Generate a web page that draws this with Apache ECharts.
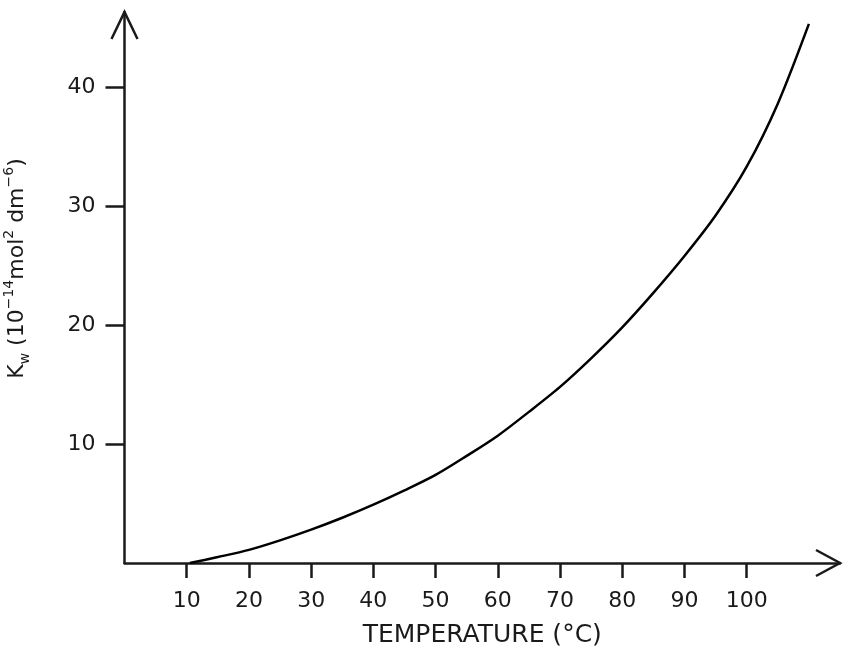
<!DOCTYPE html>
<html>
<head>
<meta charset="utf-8">
<script src="https://cdn.jsdelivr.net/npm/echarts@6/dist/echarts.min.js"></script>
<style>
  html, body { margin: 0; padding: 0; background: #fff; }
  #kwChart { width: 843px; height: 649px; }
</style>
</head>
<body>
<div id="kwChart"></div>
<script>
// Kw vs temperature
const temps = [10.5, 15, 20, 25, 30, 35, 40, 45, 50, 55, 60, 65, 70, 75, 80, 85, 90, 95, 100, 105, 110];
const kwValues = [0, 0.5, 1.1, 1.9, 2.8, 3.8, 4.9, 6.1, 7.4, 9.0, 10.7, 12.7, 14.8, 17.2, 19.8, 22.7, 25.8, 29.2, 33.3, 38.6, 45.3];
const xTicks = [10, 20, 30, 40, 50, 60, 70, 80, 90, 100];
const yTicks = [10, 20, 30, 40];

const font = 'DejaVu Sans';
const ink = '#1a1a1a';

const myChart = echarts.init(document.getElementById('kwChart'));

const option = {
  animation: false,
  backgroundColor: '#fff',
  grid: { left: 124.5, right: 3, top: 12, bottom: 86, outerBoundsMode: 'none' },
  xAxis: {
    type: 'value',
    min: 0,
    max: 115,
    name: 'TEMPERATURE (°C)',
    nameLocation: 'middle',
    nameGap: 60,
    nameTextStyle: { fontFamily: font, fontSize: 25, color: ink },
    axisLine: { show: true, lineStyle: { color: ink, width: 2.5 } },
    axisTick: { show: true, length: 15, customValues: xTicks, lineStyle: { color: ink, width: 2.5 } },
    axisLabel: { customValues: xTicks, margin: 27, fontFamily: font, fontSize: 22, color: ink },
    splitLine: { show: false }
  },
  yAxis: {
    type: 'value',
    min: 0,
    max: 46.3,
    name: '{m|K}{sub|w}{m| (10}{sup|−14}{m|mol}{sup|2}{m| dm}{sup|−6}{m|)}',
    nameLocation: 'middle',
    nameGap: 92,
    nameTextStyle: {
      padding: [0, 0, 0, 38],
      rich: {
        m: { fontFamily: font, fontSize: 22, color: ink, verticalAlign: 'middle', lineHeight: 30 },
        sup: { fontFamily: font, fontSize: 14, color: ink, verticalAlign: 'top', lineHeight: 30 },
        sub: { fontFamily: font, fontSize: 14, color: ink, verticalAlign: 'bottom', lineHeight: 30 }
      }
    },
    axisLine: { show: true, lineStyle: { color: ink, width: 2.5 } },
    axisTick: { show: true, length: 19, customValues: yTicks, lineStyle: { color: ink, width: 2.5 } },
    axisLabel: { customValues: yTicks, margin: 29, fontFamily: font, fontSize: 22, color: ink },
    splitLine: { show: false }
  },
  series: [
    {
      type: 'line',
      smooth: 0.3,
      symbol: 'none',
      lineStyle: { color: '#000', width: 2.5 },
      data: temps.map((t, i) => [t, kwValues[i]])
    }
  ]
};
myChart.setOption(option);

// open chevron arrowheads at the axis ends
const xEnd = myChart.convertToPixel({ gridIndex: 0 }, [115, 0]);
const yEnd = myChart.convertToPixel({ gridIndex: 0 }, [0, 46.3]);
const arrowStyle = { stroke: ink, lineWidth: 2.5, fill: null };
myChart.setOption({
  graphic: [
    {
      type: 'polyline',
      shape: { points: [[xEnd[0] - 24, xEnd[1] - 13], [xEnd[0], xEnd[1]], [xEnd[0] - 24, xEnd[1] + 13]] },
      style: arrowStyle
    },
    {
      type: 'polyline',
      shape: { points: [[yEnd[0] - 13, yEnd[1] + 27], [yEnd[0], yEnd[1]], [yEnd[0] + 13, yEnd[1] + 27]] },
      style: arrowStyle
    }
  ]
});
</script>
</body>
</html>
